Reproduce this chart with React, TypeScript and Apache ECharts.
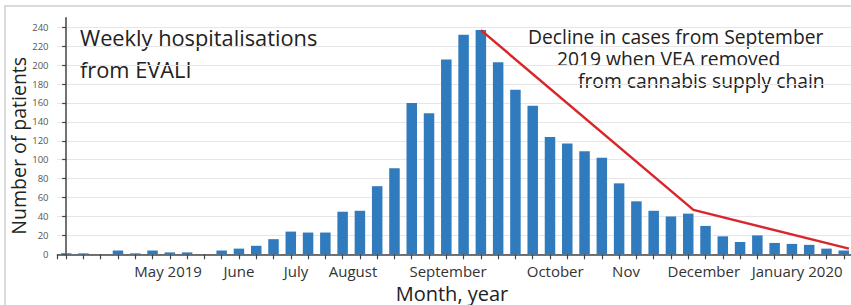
import React, { useEffect, useRef } from "react";
import * as echarts from "echarts";

// Weekly EVALI hospitalisations (one bar per week)
const weeks: string[] = Array.from({ length: 46 }, (_, i) => `Week ${i + 1}`);
const hospitalisations: number[] = [
  1, 1, 0, 4, 1, 4, 2, 2, 0, 4,
  6, 9, 16, 24, 23, 23, 45, 46, 72, 91,
  160, 149, 206, 232, 237, 203, 174, 157, 124, 117,
  109, 102, 75, 56, 46, 40, 43, 30, 19, 13,
  20, 12, 11, 10, 6, 4,
];

// Month tick labels and the (fractional) week they sit on
const monthLabels: string[] = [
  "May 2019", "June", "July", "August", "September",
  "October", "Nov", "December", "January 2020",
];
const monthLabelWeek: number[] = [5.9, 10.0, 13.3, 16.6, 22.1, 28.3, 32.4, 36.9, 42.3];

// Red annotation line: [week index, patients]
const declineLine: number[][] = [
  [24, 237],
  [36.3, 47],
  [45.3, 6],
];

const yTickValues = { min: 0, max: 250, step: 20 };

const FONT = "'Open Sans', 'Noto Sans', sans-serif";

export default function App() {
  const ref = useRef<HTMLDivElement>(null);

  useEffect(() => {
    if (!ref.current) return;
    const chart = echarts.init(ref.current, undefined, { renderer: "svg" });
    const labelFor = (v: number) => {
      let best = -1;
      let bd = Infinity;
      monthLabelWeek.forEach((w, i) => {
        const d = Math.abs(w - v);
        if (d < bd) {
          bd = d;
          best = i;
        }
      });
      return bd < 0.05 ? monthLabels[best] : "";
    };

    const txt = (text: string, x: number, y: number, size: number, align = "left", extra: any = {}) => ({
      type: "text",
      x,
      y,
      ...extra,
      style: {
        text,
        font: `${size}px ${FONT}`,
        fill: "#222",
        textAlign: align,
        textVerticalAlign: "middle",
        lineHeight: Math.round(size * 1.0),
      },
    });

    chart.setOption({
      animation: false,
      textStyle: { fontFamily: FONT },
      grid: { left: 57.5, right: 7.6, top: 17.8, bottom: 50.7 },
      xAxis: [
        {
          type: "category",
          data: weeks,
          boundaryGap: true,
          axisLine: { show: true, lineStyle: { color: "#444", width: 1.5 } },
          axisTick: {
            show: true,
            alignWithLabel: true,
            interval: 0,
            length: 5,
            lineStyle: { color: "#444", width: 1.2 },
          },
          axisLabel: { show: false },
          splitLine: { show: false },
        },
        {
          type: "value",
          min: -0.5,
          max: 45.5,
          position: "bottom",
          axisLine: { show: false },
          axisTick: {
            show: true,
            customValues: [-0.5],
            length: 5,
            lineStyle: { color: "#444", width: 1.2 },
          },
          splitLine: { show: false },
          axisLabel: {
            show: true,
            customValues: monthLabelWeek,
            formatter: (v: number) => labelFor(v),
            color: "#333",
            fontSize: 15,
            margin: 9,
            fontFamily: FONT,
          },
        },
      ],
      yAxis: {
        type: "value",
        min: yTickValues.min,
        max: yTickValues.max,
        interval: yTickValues.step,
        axisLine: { show: true, lineStyle: { color: "#444", width: 1.5 } },
        axisTick: { show: true, length: 4, lineStyle: { color: "#444", width: 1.2 } },
        axisLabel: {
          color: "#555",
          fontSize: 9.5,
          margin: 9,
          showMaxLabel: false,
          fontFamily: FONT,
        },
        splitLine: {
          show: true,
          showMaxLine: false,
          lineStyle: { color: "#e6e6e6", width: 1 },
        },
      },
      series: [
        {
          type: "bar",
          xAxisIndex: 0,
          data: hospitalisations,
          barWidth: 10.5,
          itemStyle: { color: "#2f7bbd" },
        },
        {
          type: "line",
          xAxisIndex: 1,
          data: declineLine,
          symbol: "none",
          lineStyle: { color: "#d9262a", width: 2.5 },
          z: 5,
        },
      ],
      graphic: [
        {
          type: "rect",
          shape: { x: 5, y: 6, width: 900, height: 400 },
          style: { fill: "none", stroke: "#cfcfcf", lineWidth: 1.5 },
          silent: true,
        },
        txt("Weekly hospitalisations", 80, 37.5, 21.8),
        txt("from EVALI", 80, 69, 21.8),
        txt("Decline in cases from September", 528, 36.5, 19.3),
        txt("2019 when VEA removed", 557, 58.8, 19.3),
        txt("from cannabis supply chain", 578, 80.8, 19.3),
        txt("Month, year", 452, 293, 20, "center"),
        txt("Number of patients", 18, 145.8, 19.5, "center", { rotation: Math.PI / 2 }),
      ],
    });
    return () => chart.dispose();
  }, []);

  return (
    <div
      style={{
        position: "absolute",
        left: 0,
        top: 0,
        width: 851,
        height: 305,
        overflow: "hidden",
        background: "#fff",
      }}
    >
      <div ref={ref} style={{ width: 860, height: 305 }} />
    </div>
  );
}
